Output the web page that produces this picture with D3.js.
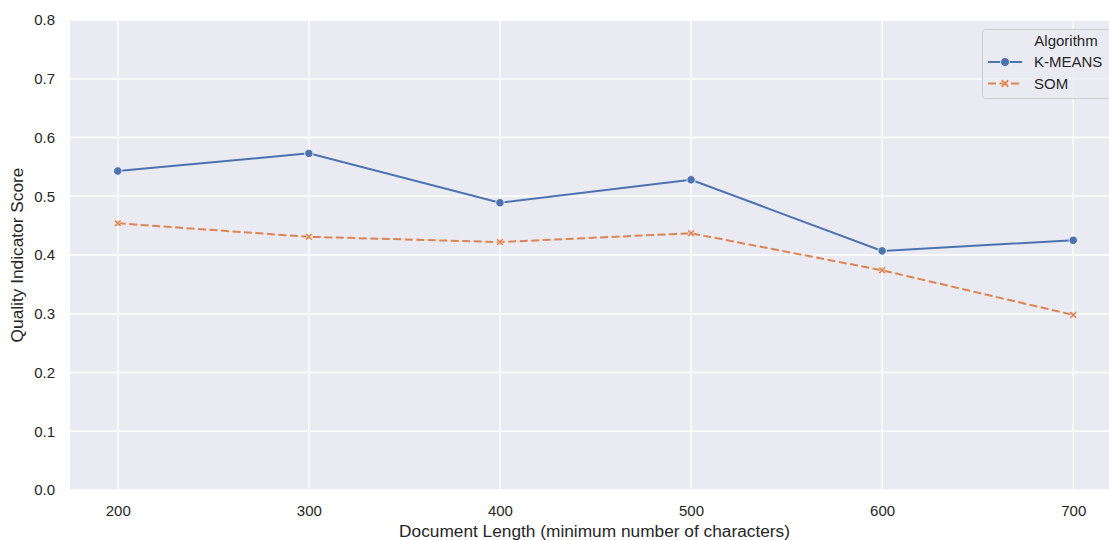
<!DOCTYPE html>
<html>
<head>
<meta charset="utf-8">
<script src="https://cdn.jsdelivr.net/npm/d3@7"></script>
<style>
  body { margin: 0; background: #ffffff; }
  svg text { font-family: "Liberation Sans", Arial, sans-serif; fill: #262626; }
</style>
</head>
<body>
<svg id="chart" width="1109" height="540"></svg>
<script>
// Document length (minimum number of characters)
const lengths = [200, 300, 400, 500, 600, 700];
// Quality indicator scores per algorithm
const kmeansScores = [0.543, 0.573, 0.489, 0.528, 0.407, 0.425];
const somScores = [0.454, 0.431, 0.422, 0.437, 0.374, 0.298];
const yTicks = [0.0, 0.1, 0.2, 0.3, 0.4, 0.5, 0.6, 0.7, 0.8];
const seriesNames = ["K-MEANS", "SOM"];

const svg = d3.select("#chart");
const plotLeft = 70, plotTop = 20, plotBottom = 490, plotRight = 1121;
const tickFont = 15, labelFont = 17.3;
// plot extends slightly beyond the visible width (5% x margins)
const x = d3.scaleLinear().domain([175, 725]).range([plotLeft, plotRight]);
const y = d3.scaleLinear().domain([0, 0.8]).range([plotBottom, plotTop]);

svg.append("defs").append("clipPath").attr("id", "plotclip")
  .append("rect").attr("x", plotLeft).attr("y", plotTop)
  .attr("width", plotRight - plotLeft).attr("height", plotBottom - plotTop);

svg.append("rect").attr("x", plotLeft).attr("y", plotTop)
  .attr("width", plotRight - plotLeft).attr("height", plotBottom - plotTop).attr("fill", "#eaeaf2");

// grid
const grid = svg.append("g").attr("clip-path", "url(#plotclip)");
grid.selectAll(".gx").data(lengths).join("line")
  .attr("x1", d => x(d)).attr("x2", d => x(d)).attr("y1", plotTop).attr("y2", plotBottom)
  .attr("stroke", "#fff").attr("stroke-width", 1.3);
grid.selectAll(".gy").data(yTicks).join("line")
  .attr("x1", plotLeft).attr("x2", plotRight).attr("y1", d => y(d)).attr("y2", d => y(d))
  .attr("stroke", "#fff").attr("stroke-width", 1.3);

// axes (labels only, darkgrid style has no spines/ticks)
const xAxis = d3.axisBottom(x).tickValues(lengths).tickSize(0).tickPadding(15).tickFormat(d3.format("d"));
const gx = svg.append("g").attr("transform", `translate(0,${plotBottom})`).call(xAxis);
gx.select(".domain").remove();
gx.selectAll("text").attr("font-size", tickFont).attr("fill", "#262626")
  .style("font-family", '"Liberation Sans", Arial, sans-serif');

const yAxis = d3.axisLeft(y).tickValues(yTicks).tickSize(0).tickPadding(15).tickFormat(d3.format(".1f"));
const gy = svg.append("g").attr("transform", `translate(${plotLeft},0)`).call(yAxis);
gy.select(".domain").remove();
gy.selectAll("text").attr("font-size", tickFont).attr("fill", "#262626")
  .style("font-family", '"Liberation Sans", Arial, sans-serif');

svg.append("text").attr("x", 594.5).attr("y", 537)
  .attr("text-anchor", "middle").attr("font-size", labelFont)
  .text("Document Length (minimum number of characters)");
svg.append("text").attr("transform", `translate(23,${(plotTop + plotBottom) / 2}) rotate(-90)`)
  .attr("text-anchor", "middle").attr("font-size", labelFont)
  .text("Quality Indicator Score");

const colors = ["#4c72b0", "#dd8452"];
const line = d3.line().x(d => x(d[0])).y(d => y(d[1]));
const kData = lengths.map((l, i) => [l, kmeansScores[i]]);
const sData = lengths.map((l, i) => [l, somScores[i]]);

const plot = svg.append("g").attr("clip-path", "url(#plotclip)");
plot.append("path").datum(kData).attr("d", line).attr("fill", "none")
  .attr("stroke", colors[0]).attr("stroke-width", 2);
plot.append("path").datum(sData).attr("d", line).attr("fill", "none")
  .attr("stroke", colors[1]).attr("stroke-width", 2).attr("stroke-dasharray", "8,3.5");

plot.selectAll(".km").data(kData).join("circle")
  .attr("cx", d => x(d[0])).attr("cy", d => y(d[1])).attr("r", 4.2)
  .attr("fill", colors[0]).attr("stroke", "#fff").attr("stroke-width", 0.8);

// X-shaped filled marker
function xMarker(s) {
  const a = s, b = s * 0.4;
  return `M${-a},${-a + b} L${-b},0 L${-a},${a - b} L${-a + b},${a} L0,${b} L${a - b},${a} L${a},${a - b} L${b},0 L${a},${-a + b} L${a - b},${-a} L0,${-b} L${-a + b},${-a} Z`;
}
plot.selectAll(".som").data(sData).join("path")
  .attr("transform", d => `translate(${x(d[0])},${y(d[1])})`)
  .attr("d", xMarker(3.8)).attr("fill", colors[1]).attr("stroke", "#fff").attr("stroke-width", 0.6);

// legend
const lg = svg.append("g");
lg.append("rect").attr("x", 982.5).attr("y", 29.5).attr("width", 140).attr("height", 69)
  .attr("rx", 3).attr("fill", "#eaeaf2").attr("fill-opacity", 0.8)
  .attr("stroke", "#cccccc").attr("stroke-width", 1);
lg.append("text").attr("x", 1066).attr("y", 45.5).attr("text-anchor", "middle")
  .attr("font-size", tickFont).text("Algorithm");
seriesNames.forEach((name, i) => {
  const yy = 62 + i * 21.5;
  lg.append("line").attr("x1", 988).attr("x2", 1022).attr("y1", yy).attr("y2", yy)
    .attr("stroke", colors[i]).attr("stroke-width", 2)
    .attr("stroke-dasharray", i === 1 ? "8,3.5" : null);
  if (i === 0) {
    lg.append("circle").attr("cx", 1005).attr("cy", yy).attr("r", 4.5)
      .attr("fill", colors[0]).attr("stroke", "#fff").attr("stroke-width", 0.8);
  } else {
    lg.append("path").attr("transform", `translate(1005,${yy})`).attr("d", xMarker(4.3))
      .attr("fill", colors[1]).attr("stroke", "#fff").attr("stroke-width", 0.6);
  }
  lg.append("text").attr("x", 1034).attr("y", yy + 5.3).attr("font-size", tickFont).text(name);
});
</script>
</body>
</html>
